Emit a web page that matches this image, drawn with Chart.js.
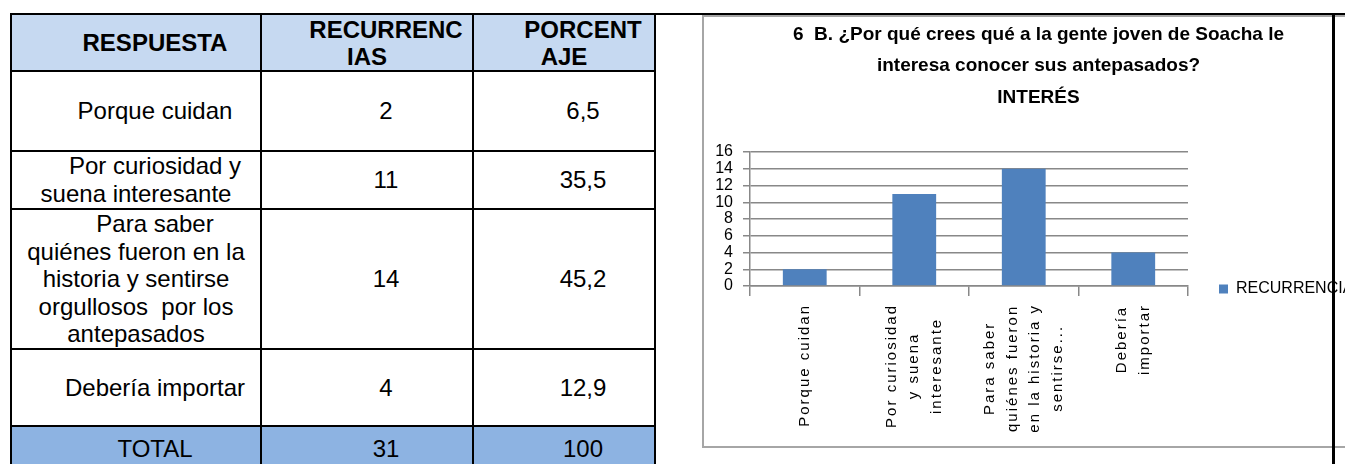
<!DOCTYPE html>
<html>
<head>
<meta charset="utf-8">
<script src="https://cdn.jsdelivr.net/npm/chart.js@4.4.0/dist/chart.umd.min.js"></script>
<style>
body{margin:0;width:1345px;height:464px;overflow:hidden;background:#fff;position:relative;font-family:"Liberation Sans",Arial,sans-serif;color:#000;}
#tabla{position:absolute;left:10px;top:13px;border-collapse:collapse;table-layout:fixed;}
#tabla td{border:2px solid #000;text-align:center;text-indent:38px;font-size:24px;line-height:28px;padding:0;vertical-align:middle;}
#tabla tr.cab td{background:#c6d9f1;font-weight:bold;line-height:27px;}
#tabla tr.alta td{line-height:27.5px;}
#tabla tr.tot td{background:#8db3e2;}
#lineaTop{position:absolute;left:655px;top:13px;width:690px;height:2px;background:#000;}
#lineaDer{position:absolute;left:1332px;top:13px;width:3px;height:460px;background:#000;z-index:2;}
#marco{position:absolute;left:702px;top:15px;width:700px;height:429px;border-left:2px solid #a6a6a6;border-top:2px solid #a6a6a6;border-bottom:2px solid #a6a6a6;overflow:hidden;}
#grafico{position:absolute;left:0;top:0;}
</style>
</head>
<body>
<table id="tabla">
  <colgroup><col style="width:250px"><col style="width:212px"><col style="width:182px"></colgroup>
  <tbody id="cuerpo"></tbody>
</table>
<div id="lineaTop"></div>
<div id="marco"><canvas id="grafico" width="659" height="544"></canvas></div>
<div id="lineaDer"></div>
<script>
// datos de la tabla
var encabezados = [['RESPUESTA'], ['RECURRENC', 'IAS'], ['PORCENT', 'AJE']];
var respuestas = [
    ['Porque cuidan'],
    ['Por curiosidad y', 'suena interesante'],
    ['Para saber', 'quiénes fueron en la', 'historia y sentirse', 'orgullosos\u00a0 por los', 'antepasados'],
    ['Debería importar']
];
var recurrencias = [2, 11, 14, 4];
var porcentajes = ['6,5', '35,5', '45,2', '12,9'];
var totales = ['TOTAL', '31', '100'];
var altoFilas = [57, 80, 56, 140, 77, 46];

// datos del grafico
var tituloGrafico = ['6  B. ¿Por qué crees qué a la gente joven de Soacha le', 'interesa conocer sus antepasados?', 'INTERÉS'];
var etiquetasEje = [
    ['Porque cuidan'],
    ['Por curiosidad', 'y suena', 'interesante'],
    ['Para saber', 'quiénes fueron', 'en la historia y', 'sentirse...'],
    ['Debería', 'importar']
];
var nombreSerie = 'RECURRENCIAS';
var ticksY = [0, 16, 2];

function fila(celdas, clase, alto) {
    var tr = document.createElement('tr');
    if (clase) tr.className = clase;
    tr.style.height = alto + 'px';
    celdas.forEach(function(c) {
        var td = document.createElement('td');
        td.innerHTML = [].concat(c).join('<br>');
        tr.appendChild(td);
    });
    return tr;
}

var cuerpo = document.getElementById('cuerpo');
cuerpo.appendChild(fila(encabezados, 'cab', altoFilas[0]));
for (var i = 0; i < respuestas.length; i++) {
    var clase = respuestas[i].length > 3 ? 'alta' : '';
    cuerpo.appendChild(fila([respuestas[i], String(recurrencias[i]), porcentajes[i]], clase, altoFilas[i+1]));
}
cuerpo.appendChild(fila(totales, 'tot', altoFilas[5]));

// etiquetas del eje x giradas, lineas centradas entre si
var etiquetasX = {
    id: 'etiquetasX',
    afterDraw: function(chart) {
        var xs = chart.scales.x;
        var ctx = chart.ctx;
        var alto = 22.5;
        ctx.save();
        ctx.font = '15px "Liberation Sans"';
        ctx.letterSpacing = '2px';
        ctx.fillStyle = '#000';
        ctx.textAlign = 'center';
        ctx.textBaseline = 'middle';
        etiquetasEje.forEach(function(lineas, k) {
            var px = xs.getPixelForTick(k);
            var w = Math.max.apply(null, lineas.map(function(l){ return ctx.measureText(l).width; }));
            ctx.save();
            ctx.translate(px, xs.top + 18);
            ctx.rotate(-Math.PI / 2);
            lineas.forEach(function(l, j) {
                ctx.fillText(l, -w / 2, (j - (lineas.length - 1) / 2) * alto);
            });
            ctx.restore();
        });
        ctx.restore();
    }
};

var gris = '#888888';
var ctx = document.getElementById('grafico').getContext('2d');
window.miGrafico = new Chart(ctx, {
    type: 'bar',
    data: {
        labels: etiquetasEje,
        datasets: [{
            label: nombreSerie,
            data: recurrencias,
            backgroundColor: '#4f81bd',
            borderWidth: 0,
            categoryPercentage: 1,
            barPercentage: 0.4
        }]
    },
    options: {
        responsive: false,
        animation: false,
        devicePixelRatio: 1,
        layout: { padding: { left: 10, right: 0, top: 0, bottom: 0 } },
        scales: {
            x: {
                afterFit: function(s) { s.height = 275; },
                ticks: { display: false },
                grid: { drawOnChartArea: false, drawTicks: true, tickLength: 10, color: gris, lineWidth: 1.5 },
                border: { display: true, color: gris, width: 1.5 }
            },
            y: {
                min: ticksY[0],
                max: ticksY[1],
                afterFit: function(s) { s.width = 36; },
                ticks: {
                    stepSize: ticksY[2],
                    autoSkip: false,
                    padding: 10,
                    color: '#000',
                    font: { family: 'Liberation Sans', size: 16, lineHeight: 1 }
                },
                grid: { color: gris, lineWidth: 1.5, tickLength: 7 },
                border: { display: true, color: gris, width: 1.5 }
            }
        },
        plugins: {
            title: {
                display: true,
                text: tituloGrafico,
                color: '#000',
                font: { family: 'Liberation Sans', size: 19, weight: 'bold', lineHeight: 1.658 },
                padding: { top: 2, bottom: 38.5 }
            },
            legend: {
                display: true,
                position: 'right',
                maxWidth: 175,
                labels: {
                    boxWidth: 9,
                    boxHeight: 9,
                    padding: 31,
                    color: '#000',
                    font: { family: 'Liberation Sans', size: 16 }
                }
            },
            tooltip: { enabled: false }
        }
    },
    plugins: [etiquetasX]
});
</script>
</body>
</html>
